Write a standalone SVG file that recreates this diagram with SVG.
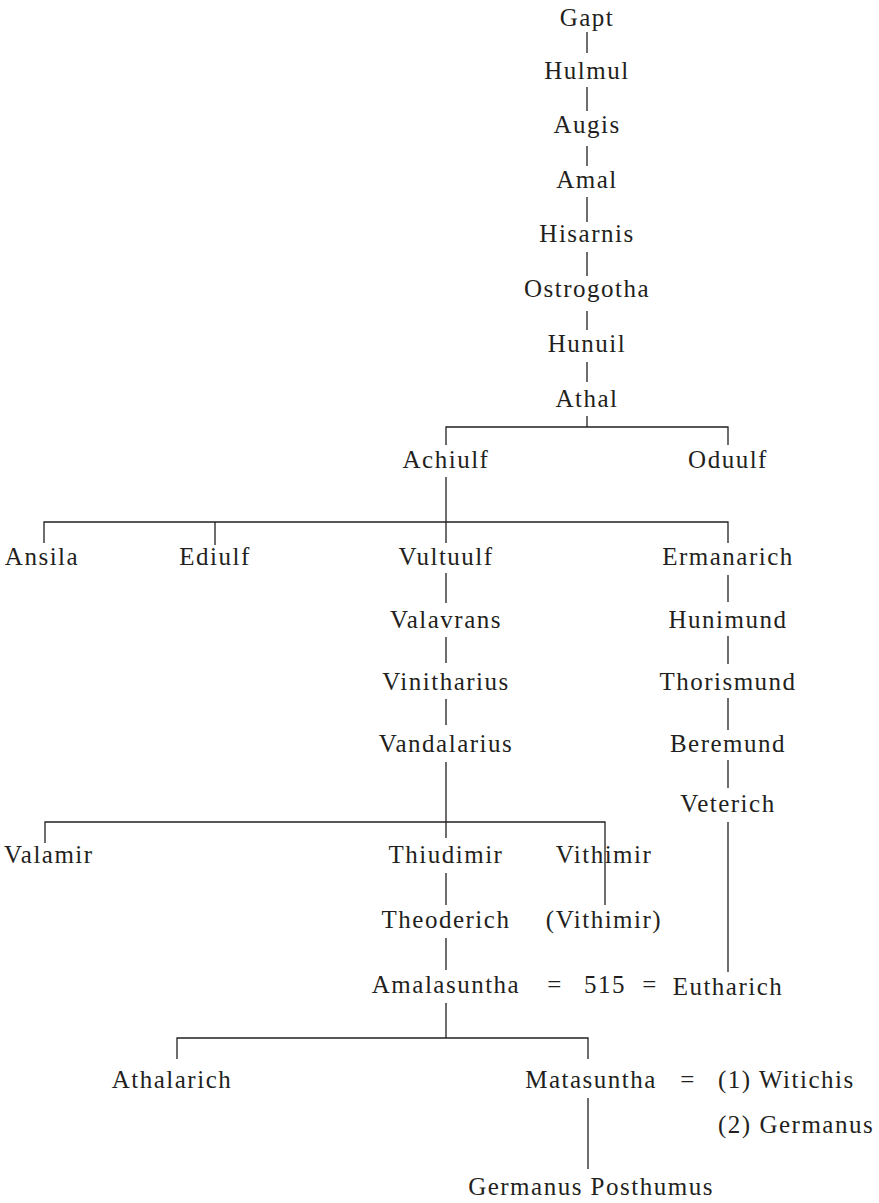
<svg xmlns="http://www.w3.org/2000/svg" width="879" height="1203" viewBox="0 0 879 1203">
<style>
text{font-family:"Liberation Serif","Times New Roman",serif;font-size:25px;letter-spacing:1.5px;fill:#231f20;text-anchor:middle}
.l{text-anchor:start}
#connectors path{fill:none;stroke:#231f20;stroke-width:1.3}
</style>
<rect width="879" height="1203" fill="#fff"/>
<g id="connectors">
<path d="M587 32V53M587 87V111M587 146V166M587 197V222M587 252V276M587 311V330M587 362V382M587 416V427"/>
<path d="M446 445V427H728V445"/>
<path d="M446 477V543"/>
<path d="M44 543V522H728V543M215 522V545"/>
<path d="M446 573V603M446 637V663M446 699V725M446 762V838"/>
<path d="M45 843V822H605V905"/>
<path d="M446 873V905M446 938V970M446 1003V1038"/>
<path d="M177 1059V1038H588V1059"/>
<path d="M588 1098V1169"/>
<path d="M728 575V602M728 636V664M728 698V730M728 760V788M728 822V972"/>
</g>
<g id="n-gapt"><text x="587" y="26">Gapt</text></g>
<g id="n-hulmul"><text x="587" y="79">Hulmul</text></g>
<g id="n-augis"><text x="587" y="133">Augis</text></g>
<g id="n-amal"><text x="587" y="188">Amal</text></g>
<g id="n-hisarnis"><text x="587" y="242">Hisarnis</text></g>
<g id="n-ostrogotha"><text x="587" y="297">Ostrogotha</text></g>
<g id="n-hunuil"><text x="587" y="352">Hunuil</text></g>
<g id="n-athal"><text x="587" y="407">Athal</text></g>
<g id="n-achiulf"><text x="446" y="468">Achiulf</text></g>
<g id="n-oduulf"><text x="728" y="468">Oduulf</text></g>
<g id="n-ansila"><text x="42" y="565">Ansila</text></g>
<g id="n-ediulf"><text x="215" y="565">Ediulf</text></g>
<g id="n-vultuulf"><text x="446" y="565">Vultuulf</text></g>
<g id="n-ermanarich"><text x="728" y="565">Ermanarich</text></g>
<g id="n-valavrans"><text x="446" y="628">Valavrans</text></g>
<g id="n-hunimund"><text x="728" y="628">Hunimund</text></g>
<g id="n-vinitharius"><text x="446" y="690">Vinitharius</text></g>
<g id="n-thorismund"><text x="728" y="690">Thorismund</text></g>
<g id="n-vandalarius"><text x="446" y="752">Vandalarius</text></g>
<g id="n-beremund"><text x="728" y="752">Beremund</text></g>
<g id="n-veterich"><text x="728" y="812">Veterich</text></g>
<g id="n-valamir"><text class="l" x="4" y="863">Valamir</text></g>
<g id="n-thiudimir"><text x="446" y="863">Thiudimir</text></g>
<g id="n-vithimir"><text x="604" y="863">Vithimir</text></g>
<g id="n-theoderich"><text x="446" y="928">Theoderich</text></g>
<g id="n-vithimir2"><text x="604" y="928">(Vithimir)</text></g>
<g id="n-amalasuntha"><text x="446" y="993">Amalasuntha</text></g>
<g id="m-515"><text x="555" y="993">=</text><text x="605" y="993">515</text><text x="650" y="993">=</text></g>
<g id="n-eutharich"><text x="728" y="995">Eutharich</text></g>
<g id="n-athalarich"><text x="172" y="1088">Athalarich</text></g>
<g id="n-matasuntha"><text x="591" y="1088">Matasuntha</text></g>
<g id="m-matasuntha"><text x="688" y="1088">=</text></g>
<g id="n-witichis"><text class="l" x="718" y="1088">(1) Witichis</text></g>
<g id="n-germanus"><text class="l" x="718" y="1133">(2) Germanus</text></g>
<g id="n-germanus-posthumus"><text x="591" y="1195">Germanus Posthumus</text></g>
</svg>
